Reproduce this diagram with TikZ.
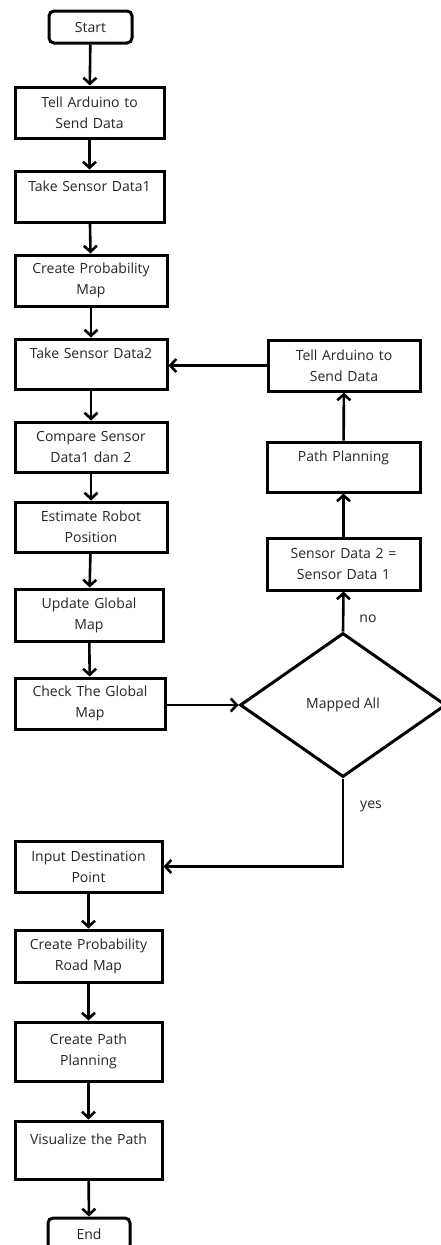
\documentclass[tikz,border=0pt]{standalone}
\usepackage{fontspec}
\setmainfont{Open Sans}
\usetikzlibrary{shapes.geometric,arrows.meta}
\begin{document}
\begin{tikzpicture}[x=1pt,y=-1pt,
  every node/.style={font=\fontsize{14}{21}\selectfont, text=black!85},
  proc/.style={draw=black, line width=3pt, rectangle, align=center, inner sep=0pt, minimum height=51pt, text width=140pt},
  term/.style={draw=black, line width=3pt, rectangle, rounded corners=5pt, align=center, inner sep=0pt, minimum width=83pt, minimum height=32pt},
  decide/.style={draw=black, line width=3pt, diamond, inner sep=0pt, minimum width=206pt, minimum height=144pt},
  arr/.style={line width=2.6pt, -{Straight Barb[length=6pt,width=13pt,line width=2.6pt]}},
  lbl/.style={font=\fontsize{14}{16}\selectfont}
]
\useasboundingbox[fill=white] (0,0) rectangle (441,1245);
% left column
\node[term] (start) at (90.5,27) {Start};
\node[proc, minimum width=149pt] (tell1) at (89.5,112.5) {Tell Arduino to\\Send Data};
\node[proc, minimum width=149pt] (tsd1) at (89.5,196.5) {Take Sensor Data1\\\mbox{}};
\node[proc, minimum width=152pt] (cpm) at (91,280.5) {Create Probability\\Map};
\node[proc, minimum width=152pt, minimum height=50pt] (tsd2) at (91,364) {Take Sensor Data2\\\mbox{}};
\node[proc, minimum width=152pt, minimum height=50pt] (cmp) at (91,447) {Compare Sensor\\Data1 dan 2};
\node[proc, minimum width=152pt, minimum height=50pt] (est) at (91,527) {Estimate Robot\\Position};
\node[proc, minimum width=148pt, minimum height=52pt] (upd) at (89,615) {Update Global\\Map};
\node[proc, minimum width=150pt] (chk) at (90,703.5) {Check The Global\\Map};
\node[proc, minimum width=147pt] (inp) at (88.5,866.5) {Input Destination\\Point};
\node[proc, minimum width=147pt, minimum height=52pt] (cprm) at (88.5,956) {Create Probability\\Road Map};
\node[proc, minimum width=147pt, minimum height=59pt] (cpp) at (88.5,1051.5) {Create Path\\Planning};
\node[proc, minimum width=147pt, minimum height=58pt] (vis) at (88.5,1150) {Visualize the Path\\\mbox{}};
\node[term, minimum width=82pt] (end) at (89,1234) {End};
% right column
\node[decide] (map) at (343,705) {Mapped All};
\node[proc, minimum width=153pt, minimum height=52pt] (sd) at (343.5,564) {Sensor Data 2 =\\Sensor Data 1};
\node[proc, minimum width=153pt, minimum height=50pt] (pp) at (343.5,467) {Path Planning\\\mbox{}};
\node[proc, minimum width=152pt] (tell2) at (344,365.5) {Tell Arduino to\\Send Data};
% connectors
\draw[arr] (start) -- (tell1);
\draw[arr] (tell1) -- (tsd1);
\draw[arr] (tsd1) -- (cpm);
\draw[arr] (cpm) -- (tsd2);
\draw[arr] (tsd2) -- (cmp);
\draw[arr] (cmp) -- (est);
\draw[arr] (est) -- (upd);
\draw[arr] (upd) -- (chk);
\draw[arr] (chk.east |- map.west) -- (map.west);
\draw[arr] (map.north) -- (sd.south);
\draw[arr] (sd) -- (pp);
\draw[arr] (pp) -- (tell2);
\draw[arr] (tell2.west) -- (tell2.west -| tsd2.east);
\draw[arr] (map.south) |- (inp.east);
\draw[arr] (inp) -- (cprm);
\draw[arr] (cprm) -- (cpp);
\draw[arr] (cpp) -- (vis);
\draw[arr] (vis) -- (end);
% labels
\node[lbl] (no) at (368,619) {no};
\node[lbl] (yes) at (371,806) {yes};
\end{tikzpicture}
\end{document}
